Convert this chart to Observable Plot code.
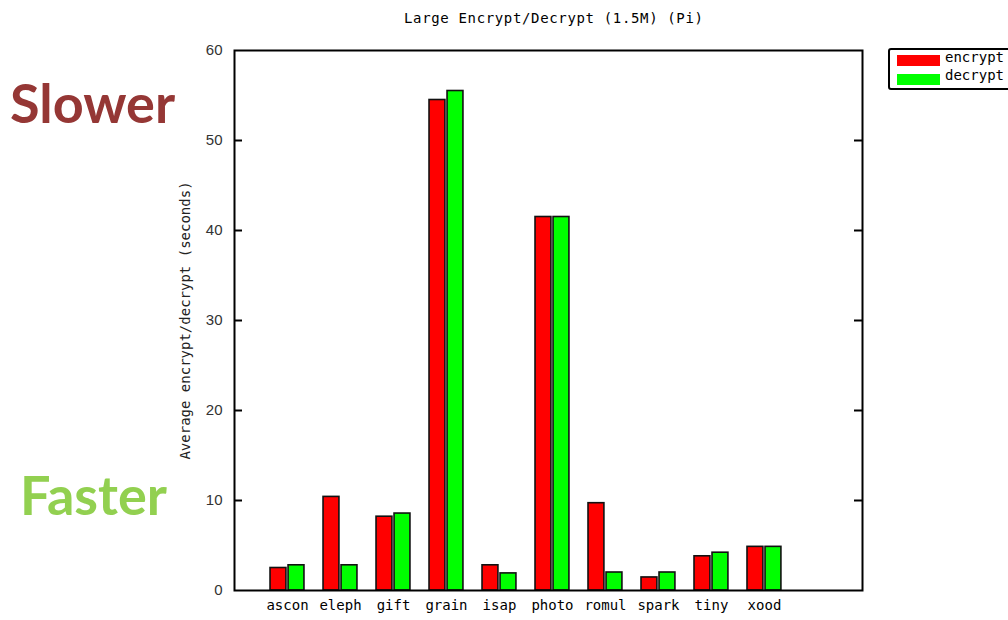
<!DOCTYPE html>
<html><head><meta charset="utf-8">
<script src="https://cdn.jsdelivr.net/npm/d3@7"></script>
<script src="https://cdn.jsdelivr.net/npm/@observablehq/plot@0.6"></script>
<style>
html,body{margin:0;padding:0;background:#fff;overflow:hidden}
#wrap{position:relative;width:1008px;height:620px;overflow:hidden;background:#fff}
#chart{position:absolute;left:0;top:0}
.mono{font-family:"DejaVu Sans Mono",monospace;font-size:14px;letter-spacing:0.65px;color:#000;white-space:nowrap}
#title{position:absolute;left:404px;top:10px}
.big{position:absolute;font-family:Lato,"Open Sans",sans-serif;font-weight:bold;font-size:54px;line-height:normal;white-space:nowrap}
#slower{left:10px;top:70px;color:#953735}
#faster{left:20px;top:462px;color:#92d050}
#legend{position:absolute;left:888px;top:48px;width:150px;height:38px;border:2px solid #000;border-radius:3px;background:#fff}
.sw{position:absolute;left:7px;width:43px;height:11px}
.lt{position:absolute;left:55px;letter-spacing:0px}
</style></head><body>
<div id="wrap">
  <div id="chart"></div>
  <div id="title" class="mono"></div>
  <div id="slower" class="big"></div>
  <div id="faster" class="big"></div>
  <div id="legend"></div>
</div>
<script>
const titleText = "Large Encrypt/Decrypt (1.5M) (Pi)";
const yLabel = "Average encrypt/decrypt (seconds)";
const categories = ["ascon","eleph","gift","grain","isap","photo","romul","spark","tiny","xood"];
const encrypt = [2.5, 10.4, 8.2, 54.5, 2.8, 41.5, 9.7, 1.45, 3.8, 4.85];
const decrypt = [2.8, 2.8, 8.55, 55.5, 1.9, 41.5, 2.0, 2.0, 4.2, 4.85];
const yTicks = [0, 10, 20, 30, 40, 50, 60];
const seriesNames = ["encrypt", "decrypt"];
const seriesColors = ["#ff0000", "#00ff00"];
const annotations = ["Slower", "Faster"];

document.getElementById("title").textContent = titleText;
document.getElementById("slower").textContent = annotations[0];
document.getElementById("faster").textContent = annotations[1];

const leg = document.getElementById("legend");
seriesNames.forEach((s, k) => {
  const sw = document.createElement("div");
  sw.className = "sw"; sw.style.top = (5 + k * 19) + "px"; sw.style.background = seriesColors[k];
  leg.appendChild(sw);
  const t = document.createElement("div");
  t.className = "lt mono"; t.style.top = (-1 + k * 18) + "px"; t.textContent = s;
  leg.appendChild(t);
});

const offsets = [[-0.32, -0.02], [0.02, 0.32]];
const rows = [];
categories.forEach((c, i) => {
  [encrypt, decrypt].forEach((arr, k) => {
    rows.push({cat: c, i, series: seriesNames[k], value: arr[i], x1: i + offsets[k][0], x2: i + offsets[k][1]});
  });
});

const mono = '"DejaVu Sans Mono", monospace';
const sans = '"Liberation Sans", Arial, sans-serif';
const chart = Plot.plot({
  width: 1008, height: 620,
  marginLeft: 234, marginRight: 146, marginTop: 50, marginBottom: 30,
  style: {fontFamily: mono, fontSize: "14px", background: "transparent", color: "#000"},
  x: {type: "linear", domain: [-1, 10.85], axis: null},
  y: {domain: [0, 60], axis: null},
  color: {domain: seriesNames, range: seriesColors},
  marks: [
    Plot.rect(rows, {x1: "x1", x2: "x2", y1: 0, y2: "value", fill: "series", stroke: "#111", strokeWidth: 1.6}),
    Plot.ruleY(yTicks.slice(1, -1), {y: d => d, insetRight: 620, stroke: "#000", strokeWidth: 2}),
    Plot.ruleY(yTicks.slice(1, -1), {y: d => d, insetLeft: 620, stroke: "#000", strokeWidth: 2}),
    Plot.frame({stroke: "#000", strokeWidth: 2}),
    Plot.text(yTicks, {y: d => d, frameAnchor: "left", dx: -12, textAnchor: "end", text: d => String(d), fill: "#333", fontFamily: sans, fontSize: 15}),
    Plot.text(categories, {x: (d, i) => i, frameAnchor: "bottom", dy: 19, text: d => d, fill: "#000", style: "letter-spacing:-0.4px"}),
    Plot.text([yLabel], {frameAnchor: "left", dx: -49, rotate: -90, textAnchor: "middle", text: d => d, fill: "#222", style: "letter-spacing:0.6px"})
  ]
});
document.getElementById("chart").appendChild(chart);
</script>
</body></html>
